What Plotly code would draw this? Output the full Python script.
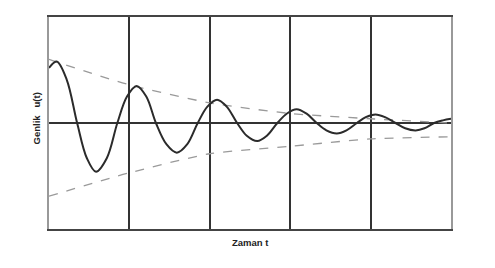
import plotly.graph_objects as go

# Damped oscillation (extrema, zero crossings and mid-slope points)
t_vals = [0, 0.096, 0.22, 0.35, 0.47, 0.585, 0.72, 0.85, 0.97, 1.09, 1.21, 1.33,
          1.46, 1.59, 1.72, 1.85, 1.97, 2.09, 2.21, 2.34, 2.46, 2.59, 2.71, 2.84,
          2.96, 3.08, 3.2, 3.33, 3.45, 3.58, 3.7, 3.83, 3.94, 4.06, 4.18, 4.31,
          4.43, 4.56, 4.67, 4.79, 4.9, 5.0]
u_vals = [0.52, 0.58, 0.41, 0.0, -0.33, -0.46, -0.33, 0.0, 0.25, 0.35, 0.25, 0.0,
          -0.20, -0.28, -0.20, 0.0, 0.155, 0.22, 0.155, 0.0, -0.12, -0.17, -0.12, 0.0,
          0.09, 0.13, 0.09, 0.0, -0.07, -0.10, -0.07, 0.0, 0.055, 0.08, 0.055, 0.0,
          -0.05, -0.07, -0.05, 0.0, 0.025, 0.04]

# Envelope lines
env_t = [0, 1, 2, 3, 4, 5]
env_upper = [0.60, 0.36, 0.19, 0.09, 0.04, 0.0]
env_lower = [-0.69, -0.47, -0.29, -0.22, -0.15, -0.13]

fig = go.Figure()
for env in (env_upper, env_lower):
    fig.add_trace(go.Scatter(x=env_t, y=env, mode="lines",
                             line=dict(color="#9a9a9a", width=1.3, dash="dash",
                                       shape="spline", smoothing=0.6),
                             showlegend=False, hoverinfo="skip"))
fig.add_trace(go.Scatter(x=t_vals, y=u_vals, mode="lines",
                         line=dict(color="#2b2b2b", width=2, shape="spline", smoothing=1.0),
                         showlegend=False))

fig.update_layout(
    width=495, height=268,
    margin=dict(l=49, r=44, t=17, b=39),
    paper_bgcolor="white", plot_bgcolor="white",
    font=dict(family="Liberation Sans, Arial, sans-serif", color="#222"),
    xaxis=dict(range=[0, 5], dtick=1, showgrid=True, gridcolor="#333", gridwidth=1.5,
               showticklabels=False, ticks="", zeroline=False,
               showline=True, mirror=True, linecolor="#444", linewidth=2),
    yaxis=dict(range=[-1, 1], showgrid=False, showticklabels=False, ticks="",
               zeroline=True, zerolinecolor="#333", zerolinewidth=1.5,
               showline=True, mirror=True, linecolor="#999", linewidth=1.5),
    annotations=[
        dict(text="<b>Zaman t</b>", xref="paper", yref="paper", x=0.5, y=-0.03,
             xanchor="center", yanchor="top", showarrow=False, font=dict(size=9.5)),
        dict(text="<b>Genlik&nbsp;&nbsp;&nbsp;u(t)</b>", xref="paper", yref="paper",
             x=-0.012, y=0.52, xanchor="right", yanchor="middle", textangle=-90,
             showarrow=False, font=dict(size=9.5)),
    ],
)

fig.write_html("out.html")
